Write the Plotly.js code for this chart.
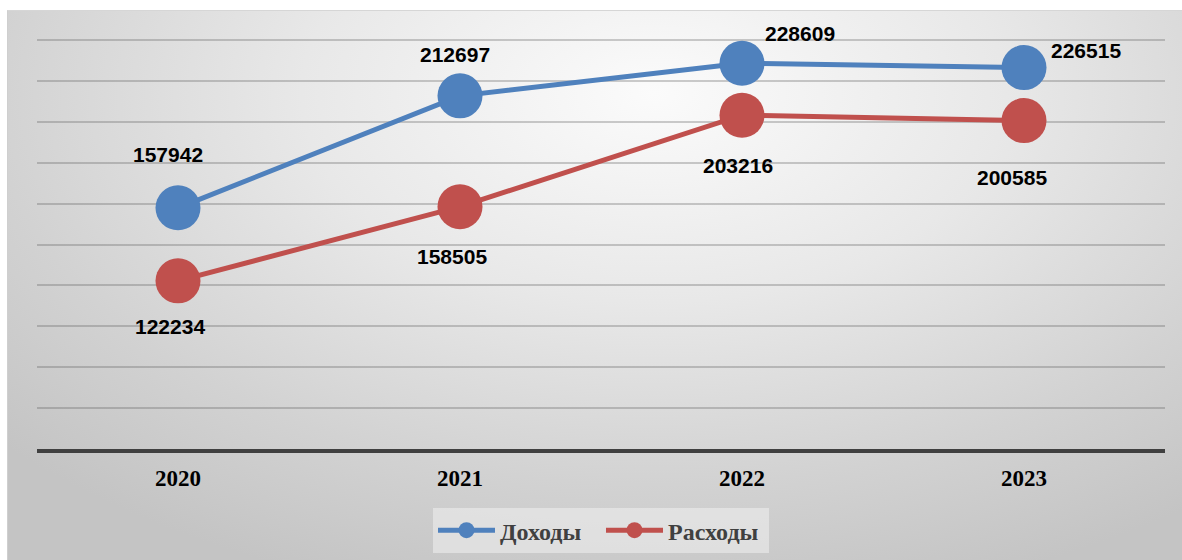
<!DOCTYPE html>
<html>
<head>
<meta charset="utf-8">
<script src="https://cdn.plot.ly/plotly-3.0.1.min.js"></script>
<style>
  html, body { margin: 0; padding: 0; background: #ffffff; }
  #wrap { position: relative; width: 1182px; height: 560px; overflow: hidden; }
  #bg { position: absolute; left: 7px; top: 10px; width: 1175px; height: 550px;
        background: radial-gradient(ellipse 75% 95% at 55% 15%, #fbfbfb 0%, #e8e8e8 40%, #d2d2d2 75%, #c4c4c4 100%);
        border-top: 1px solid #d6d6d6; border-left: 1px solid #cfcfcf; box-sizing: border-box; }
  #chart { position: absolute; left: 0; top: 0; width: 1182px; height: 560px; }
</style>
</head>
<body>
<div id="wrap">
  <div id="bg"></div>
  <div id="chart"></div>
</div>
<script>
// ---- data ----
const years = ['2020', '2021', '2022', '2023'];
const incomeName = 'Доходы';
const expenseName = 'Расходы';
const income = [157942, 212697, 228609, 226515];
const expense = [122234, 158505, 203216, 200585];

// ---- label placement (pixels, styling only) ----
const incomeShift = [[-10, 53], [-5, 41], [58, 30], [62, 17]];
const expenseShift = [[-8, -46], [-8, -50], [-4, -50], [-12, -57]];

const blue = '#4F81BD';
const red = '#C0504D';

const traces = [
  { x: years, y: income, name: incomeName, type: 'scatter', mode: 'lines+markers',
    line: { color: blue, width: 5 }, marker: { color: blue, size: 45 } },
  { x: years, y: expense, name: expenseName, type: 'scatter', mode: 'lines+markers',
    line: { color: red, width: 5 }, marker: { color: red, size: 45 } }
];

const labelFont = { family: 'Liberation Sans, Arial, sans-serif', size: 21, color: '#000000' };
const annotations = [];
years.forEach((yr, i) => {
  annotations.push({ x: i, y: income[i], xref: 'x', yref: 'y', text: '<b>' + income[i] + '</b>',
    showarrow: false, xshift: incomeShift[i][0], yshift: incomeShift[i][1], font: labelFont });
  annotations.push({ x: i, y: expense[i], xref: 'x', yref: 'y', text: '<b>' + expense[i] + '</b>',
    showarrow: false, xshift: expenseShift[i][0], yshift: expenseShift[i][1], font: labelFont });
});

const layout = {
  width: 1182, height: 560,
  margin: { l: 37, r: 17, t: 39, b: 111, pad: 0, autoexpand: false },
  paper_bgcolor: 'rgba(0,0,0,0)',
  plot_bgcolor: 'rgba(0,0,0,0)',
  showlegend: true,
  legend: {
    orientation: 'h', x: 0.5, xanchor: 'center', y: -0.144, yanchor: 'top',
    bgcolor: 'rgba(240,240,240,0.55)', borderwidth: 0,
    font: { family: 'Liberation Serif, Times New Roman, serif', size: 24, color: '#404040', weight: 'bold' },
    itemwidth: 57, entrywidth: 96, entrywidthmode: 'pixels', tracegroupgap: 0
  },
  xaxis: {
    type: 'category', range: [-0.5, 3.5],
    showgrid: false, zeroline: false,
    showline: true, linecolor: '#404040', linewidth: 4,
    ticks: '', ticklabelstandoff: 5, automargin: false,
    tickfont: { family: 'Liberation Serif, Times New Roman, serif', size: 23, color: '#000000', weight: 'bold' },
    fixedrange: true
  },
  yaxis: {
    range: [40000, 240500], dtick: 20000, tick0: 0,
    showticklabels: false, ticks: '', automargin: false,
    showgrid: true, gridcolor: 'rgba(90,90,90,0.3)', gridwidth: 2,
    zeroline: false, showline: false, fixedrange: true
  },
  annotations: annotations
};

Plotly.newPlot('chart', traces, layout, { displayModeBar: false, staticPlot: true });
</script>
</body>
</html>
